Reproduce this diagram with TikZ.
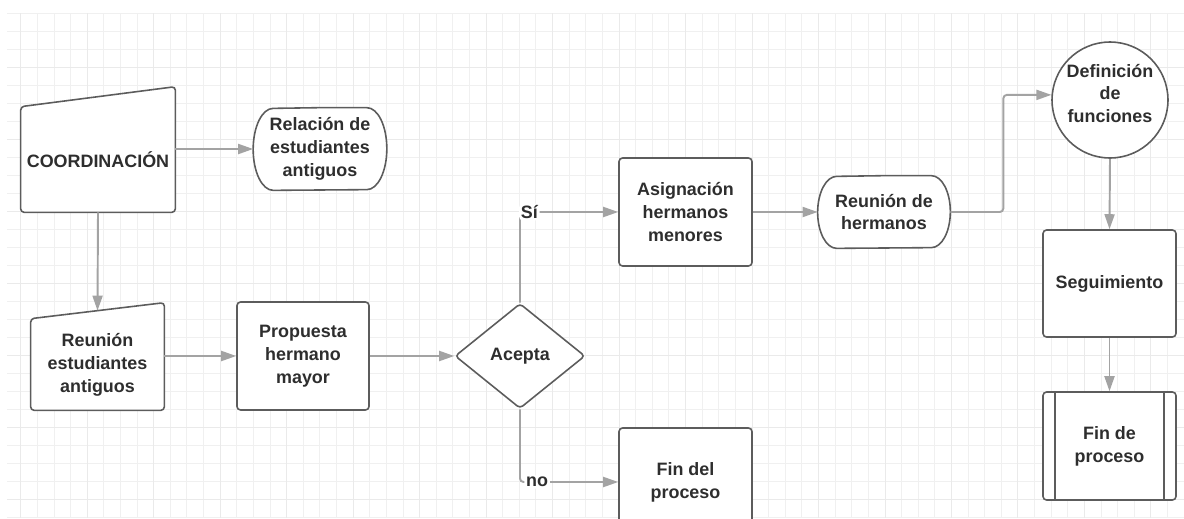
\documentclass[tikz,border=0pt]{standalone}
\usepackage{fontspec}
\setmainfont{Liberation Sans}
\usetikzlibrary{shapes.geometric, arrows.meta}
\definecolor{linegray}{HTML}{A3A3A3}
\definecolor{boxgray}{HTML}{5C5C5C}
\definecolor{textgray}{HTML}{2E2E2E}
\definecolor{gridminor}{HTML}{F0F0F0}
\definecolor{gridmajor}{HTML}{EAEAEA}
\pgfdeclarelayer{grid}
\pgfdeclarelayer{shapes}
\pgfsetlayers{grid,shapes,main}

\begin{document}
\begin{tikzpicture}[
        x=0.02cm, y=-0.02cm,
        every node/.style={align=center, font=\fontsize{10.2}{13}\selectfont\bfseries, text=textgray},
        process/.style={rectangle, draw=boxgray, line width=0.9pt, fill=white, rounded corners=2pt, minimum width=2.66cm, minimum height=2.16cm, inner sep=0pt},
        decision/.style={diamond, draw=boxgray, line width=0.9pt, fill=white, rounded corners=2pt, minimum width=2.6cm, minimum height=2.1cm, inner sep=0pt},
        roundbox/.style={circle, draw=boxgray, line width=0.9pt, fill=white, minimum size=2.32cm, inner sep=0pt},
        plain/.style={rectangle, inner sep=0pt},
        outline/.style={draw=boxgray, line width=0.9pt, fill=white, rounded corners=2pt},
        termline/.style={draw=boxgray, line width=0.9pt, fill=white},
        arrow/.style={draw=linegray, line width=1.1pt, rounded corners=2pt, -{Triangle[length=0.3cm, width=0.2cm]}},
        branch/.style={fill=white, inner sep=1pt, anchor=west}
    ]
    \useasboundingbox (0,0) rectangle (1184,518);
    \clip (0,0) rectangle (1184,518);

    % Grid
    \begin{pgfonlayer}{grid}
    \foreach \i in {0,...,70}
        \draw[gridminor, line width=0.5pt] (20.7+\i*16.62,13) -- (20.7+\i*16.62,518);
    \foreach \k in {0,...,28}
        \draw[gridminor, line width=0.5pt] (7,13.3+\k*18.02) -- (1184,13.3+\k*18.02);
    \foreach \i in {0,4,...,68}
        \draw[gridmajor, line width=0.5pt] (20.7+\i*16.62,13) -- (20.7+\i*16.62,518);
    \foreach \k in {3,7,...,27}
        \draw[gridmajor, line width=0.5pt] (7,13.3+\k*18.02) -- (1184,13.3+\k*18.02);
    \end{pgfonlayer}

    % Nodes
    \node[plain, minimum width=3.08cm, minimum height=2.1cm] (coord) at (98,159.5) {COORDINACIÓN};
    \node[plain, minimum width=2.66cm, minimum height=1.64cm] (relacion) at (320,149) {Relación de\\estudiantes\\antiguos};
    \node[plain, minimum width=2.66cm, minimum height=1.82cm] (reunion) at (97.5,364.5) {Reunión\\estudiantes\\antiguos};
    \node[process, minimum width=2.64cm] (propuesta) at (303,356) {Propuesta\\hermano\\mayor};
    \node[decision] (acepta) at (520,356) {Acepta};
    \node[process] (asignacion) at (685.5,212) {Asignación\\hermanos\\menores};
    \node[plain, minimum width=2.64cm, minimum height=1.44cm] (reunionh) at (884,212) {Reunión de\\hermanos};
    \node[roundbox, label={[name=deftext, yshift=0.13cm]center:Definición\\de\\funciones}] (definicion) at (1110,100) {};
    \node[process, minimum height=2.14cm] (seguimiento) at (1109.5,283.5) {Seguimiento};
    \node[process] (finp) at (1109.5,446) {Fin de\\proceso};
    \draw[outline] ([xshift=0.26cm]finp.north west) -- ([xshift=0.26cm]finp.south west);
    \draw[outline] ([xshift=-0.26cm]finp.north east) -- ([xshift=-0.26cm]finp.south east);
    \node[process] (fin) at (685.5,482) {Fin del\\proceso};

    % Outlines behind the texts
    \begin{pgfonlayer}{shapes}
    \draw[outline] (coord.south west) -- (coord.north west) -- ([yshift=0.4cm]coord.north east) -- (coord.south east) -- cycle;
    \draw[outline] (reunion.south west) -- (reunion.north west) -- ([yshift=0.32cm]reunion.north east) -- (reunion.south east) -- cycle;
    \draw[termline] (relacion.north) -- ([xshift=-0.4cm]relacion.north east)
        arc[start angle=90, end angle=-90, x radius=0.4cm, y radius=0.82cm]
        -- ([xshift=0.4cm]relacion.south west)
        arc[start angle=270, end angle=90, x radius=0.4cm, y radius=0.82cm] -- cycle;
    \draw[termline] (reunionh.north) -- ([xshift=-0.38cm]reunionh.north east)
        arc[start angle=90, end angle=-90, x radius=0.38cm, y radius=0.72cm]
        -- ([xshift=0.38cm]reunionh.south west)
        arc[start angle=270, end angle=90, x radius=0.38cm, y radius=0.72cm] -- cycle;
    \end{pgfonlayer}

    % Arrows
    \draw[arrow] (coord.east |- relacion.west) -- (relacion.west);
    \draw[arrow] (coord.south) -- ([yshift=0.16cm]reunion.north);
    \draw[arrow] (reunion.east |- propuesta.west) -- (propuesta.west);
    \draw[arrow] (propuesta.east) -- (acepta.west);
    \draw[arrow] (acepta.north) |- node[branch, pos=0.5, xshift=-1pt] (si) {Sí} (asignacion.west);
    \draw[arrow] (acepta.south) |- node[branch, pos=0.5, xshift=2pt] (no) {no} (fin.west);
    \draw[arrow] (asignacion.east) -- (reunionh.west);
    \draw[arrow] (reunionh.east) -- ++(53,0) |- (definicion.175);
    \draw[arrow] (definicion.south) -- (seguimiento.north);
    \draw[arrow] (seguimiento.south) -- (finp.north);

\end{tikzpicture}
\end{document}
